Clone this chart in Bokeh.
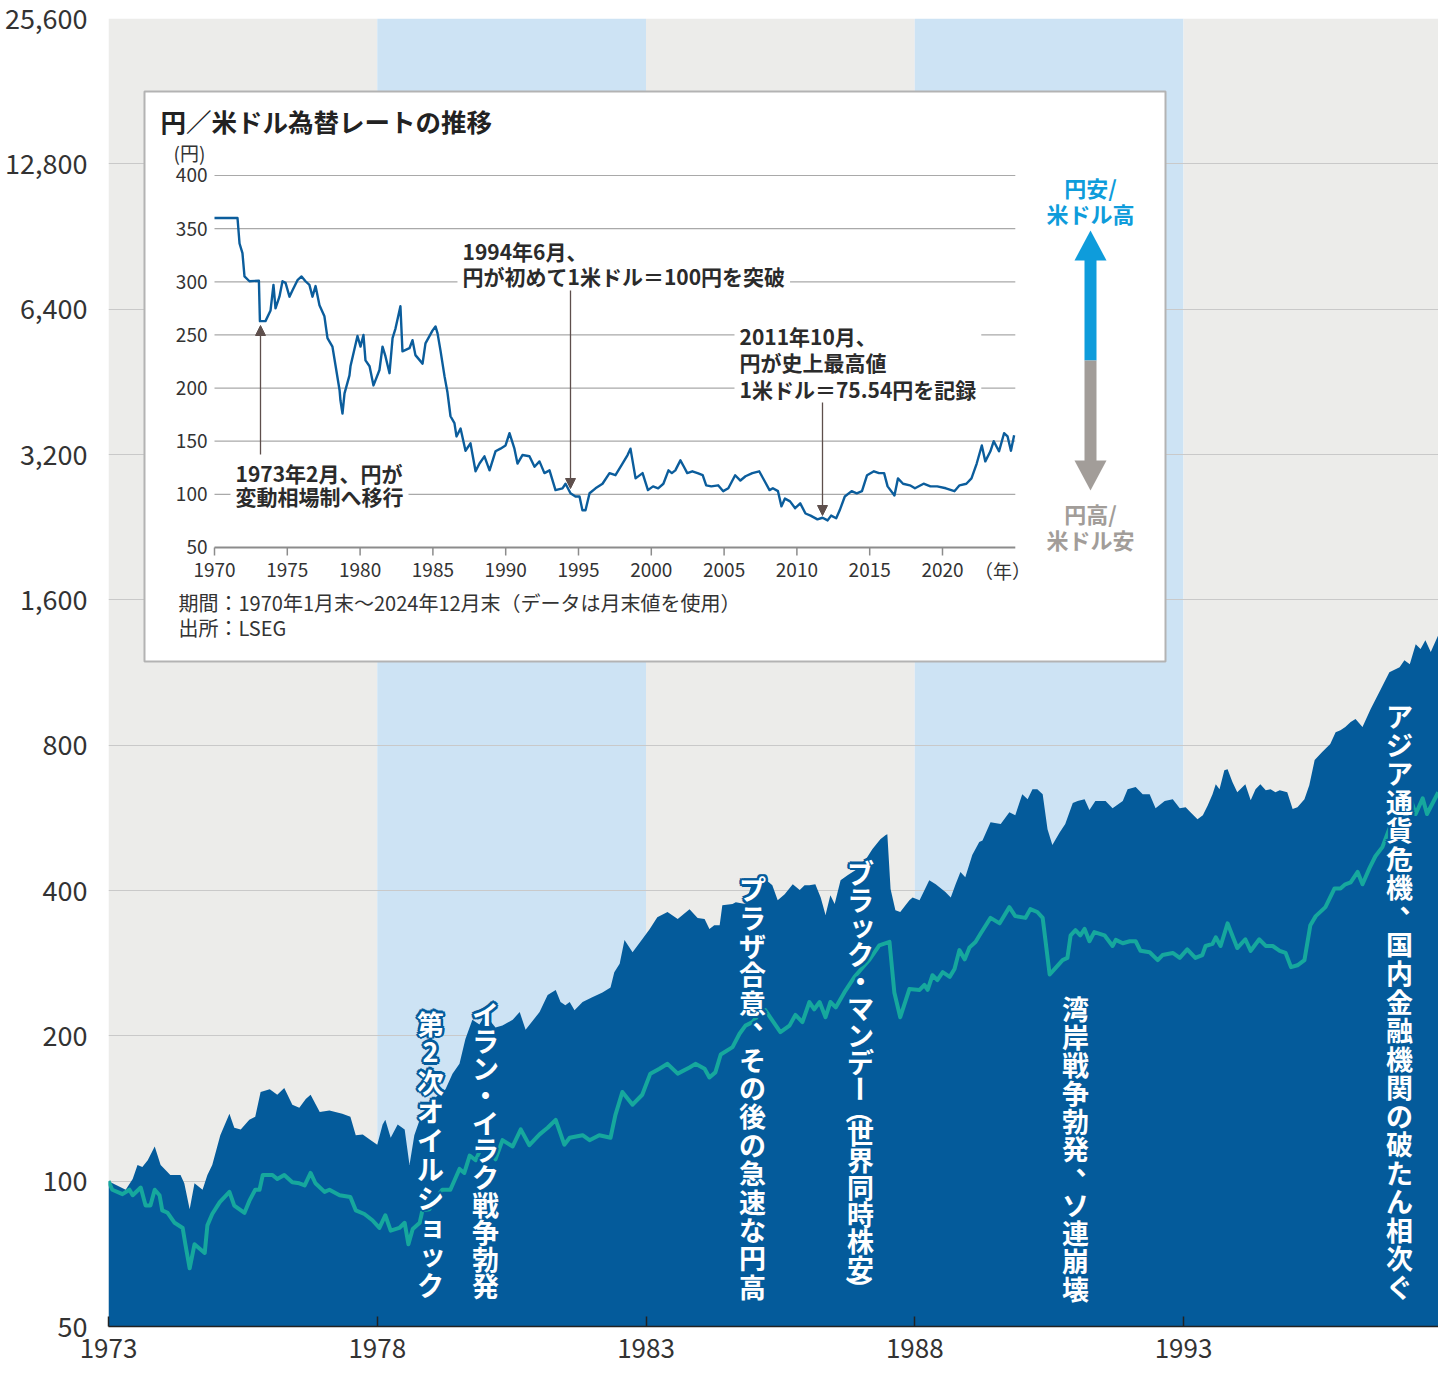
import math
from bokeh.plotting import figure
from bokeh.models import (Range1d, LinearScale, FixedTicker, NumeralTickFormatter,
                          ColumnDataSource, Arrow, NormalHead)
from bokeh.core.properties import value
from bokeh.embed import file_html
from bokeh.resources import INLINE

FONT = "Noto Sans CJK JP"

# ---------------- main chart data (index, 1973 = 100, log scale) ----------------
usd_dates = [1973.00, 1973.32, 1973.45, 1973.54, 1973.63, 1973.73, 1973.86, 1973.97, 1974.15, 1974.34,
             1974.41, 1974.51, 1974.60, 1974.75, 1974.84, 1974.93, 1975.08, 1975.25, 1975.34, 1975.46,
             1975.62, 1975.73, 1975.83, 1976.00, 1976.14, 1976.27, 1976.42, 1976.55, 1976.67, 1976.76,
             1976.93, 1977.11, 1977.35, 1977.50, 1977.60, 1977.73, 1977.86, 1978.00, 1978.10, 1978.15,
             1978.25, 1978.38, 1978.51, 1978.60, 1978.69, 1978.79, 1978.90, 1979.08, 1979.27, 1979.40,
             1979.53, 1979.64, 1979.77, 1979.90, 1980.01, 1980.20, 1980.33, 1980.52, 1980.65, 1980.76,
             1981.02, 1981.17, 1981.32, 1981.41, 1981.50, 1981.58, 1981.67, 1981.82, 1982.00, 1982.19,
             1982.34, 1982.41, 1982.51, 1982.60, 1982.75, 1982.93, 1983.07, 1983.21, 1983.40, 1983.59,
             1983.81, 1983.96, 1984.09, 1984.18, 1984.27, 1984.37, 1984.42, 1984.61, 1984.67, 1984.85,
             1984.98, 1985.22, 1985.35, 1985.45, 1985.58, 1985.73, 1985.86, 1985.95, 1986.04, 1986.15,
             1986.25, 1986.34, 1986.43, 1986.51, 1986.62, 1986.75, 1986.93, 1987.08, 1987.21, 1987.36,
             1987.46, 1987.49, 1987.55, 1987.64, 1987.73, 1987.90, 1987.96, 1988.09, 1988.27, 1988.39,
             1988.57, 1988.67, 1988.76, 1988.85, 1988.94, 1989.07, 1989.20, 1989.26, 1989.41, 1989.60,
             1989.76, 1989.87, 1990.00, 1990.10, 1990.19, 1990.28, 1990.38, 1990.47, 1990.56, 1990.69,
             1990.80, 1990.94, 1991.03, 1991.16, 1991.25, 1991.36, 1991.55, 1991.68, 1991.87, 1991.96,
             1992.11, 1992.24, 1992.37, 1992.48, 1992.65, 1992.80, 1992.93, 1993.04, 1993.13, 1993.26,
             1993.36, 1993.45, 1993.54, 1993.60, 1993.67, 1993.76, 1993.82, 1993.91, 1994.00, 1994.15,
             1994.25, 1994.34, 1994.43, 1994.53, 1994.62, 1994.71, 1994.79, 1994.93, 1995.03, 1995.12,
             1995.25, 1995.34, 1995.44, 1995.58, 1995.73, 1995.83, 1995.92, 1996.01, 1996.11, 1996.20,
             1996.33, 1996.48, 1996.67, 1996.83, 1997.02, 1997.11, 1997.21, 1997.32, 1997.41, 1997.50,
             1997.60, 1997.74]
usd_index = [100, 96, 101, 108, 107, 110.5, 118, 108, 103, 103,
             99, 87.5, 99, 96, 103, 108, 124.5, 138, 129, 128,
             134, 136, 153, 155, 151, 156, 144, 142, 148, 151,
             139, 140, 138, 136, 124.5, 125, 122, 119, 131, 134,
             123, 131, 128, 108, 124.5, 134, 139, 149, 155, 167,
             175, 197, 216, 211, 221, 208, 210, 216, 224, 206,
             224, 243, 249, 235, 231.5, 235, 226, 235, 240.5, 246,
             252, 271, 282, 316, 298, 317, 333, 352, 361, 349,
             366, 351, 349, 333, 339, 339, 373, 375, 378, 375,
             416, 422, 410, 382, 393, 412, 401, 410, 410, 412,
             387, 356, 391, 375, 420, 430, 443, 462, 487, 511,
             521, 523, 403, 364, 361, 382, 387, 382, 420, 412,
             397, 387, 412, 437, 426, 474, 504, 508, 554, 549,
             581, 573, 633, 618, 648, 648, 633, 536, 497, 526,
             549, 607, 613, 618, 587, 613, 613, 592, 613, 648,
             655, 633, 633, 592, 613, 618, 592, 595, 581, 562,
             573, 600, 633, 664, 648, 710, 713, 671, 639, 664,
             615, 648, 664, 645, 648, 639, 645, 639, 590, 595,
             618, 661, 745, 774, 804, 851, 859, 872, 893, 906,
             872, 950, 1045, 1133, 1160, 1200, 1177, 1295, 1265, 1320,
             1247, 1352]

jpy_dates = [1973.00, 1973.07, 1973.26, 1973.39, 1973.45, 1973.60, 1973.69, 1973.78, 1973.86, 1973.95,
             1974.00, 1974.10, 1974.23, 1974.38, 1974.43, 1974.51, 1974.60, 1974.79, 1974.84, 1974.93,
             1975.07, 1975.25, 1975.34, 1975.53, 1975.62, 1975.73, 1975.81, 1975.87, 1976.05, 1976.14,
             1976.27, 1976.42, 1976.55, 1976.65, 1976.76, 1976.85, 1977.02, 1977.11, 1977.30, 1977.50,
             1977.60, 1977.76, 1977.91, 1978.04, 1978.15, 1978.25, 1978.41, 1978.51, 1978.58, 1978.66,
             1978.79, 1978.84, 1978.97, 1979.08, 1979.21, 1979.36, 1979.53, 1979.62, 1979.72, 1979.83,
             1979.96, 1980.09, 1980.20, 1980.33, 1980.52, 1980.67, 1980.83, 1981.02, 1981.17, 1981.32,
             1981.48, 1981.58, 1981.82, 1981.95, 1982.13, 1982.34, 1982.43, 1982.56, 1982.75, 1982.93,
             1983.08, 1983.25, 1983.40, 1983.59, 1983.81, 1983.92, 1984.09, 1984.18, 1984.29, 1984.39,
             1984.61, 1984.74, 1984.85, 1984.98, 1985.11, 1985.22, 1985.50, 1985.67, 1985.78, 1985.91,
             1986.04, 1986.13, 1986.23, 1986.34, 1986.43, 1986.53, 1986.69, 1986.88, 1987.03, 1987.16,
             1987.34, 1987.53, 1987.62, 1987.73, 1987.90, 1988.09, 1988.18, 1988.24, 1988.33, 1988.42,
             1988.52, 1988.65, 1988.74, 1988.83, 1988.93, 1989.02, 1989.13, 1989.22, 1989.41, 1989.58,
             1989.76, 1989.87, 1990.06, 1990.15, 1990.28, 1990.38, 1990.51, 1990.60, 1990.75, 1990.84,
             1990.90, 1990.99, 1991.08, 1991.16, 1991.25, 1991.34, 1991.53, 1991.68, 1991.74, 1991.87,
             1992.00, 1992.11, 1992.20, 1992.37, 1992.52, 1992.61, 1992.80, 1992.93, 1993.07, 1993.22,
             1993.35, 1993.41, 1993.54, 1993.60, 1993.69, 1993.82, 1993.87, 1994.00, 1994.15, 1994.25,
             1994.41, 1994.53, 1994.66, 1994.79, 1994.90, 1995.00, 1995.12, 1995.25, 1995.36, 1995.46,
             1995.64, 1995.81, 1995.92, 1996.01, 1996.11, 1996.24, 1996.33, 1996.46, 1996.57, 1996.70,
             1996.84, 1997.03, 1997.15, 1997.22, 1997.32, 1997.45, 1997.53, 1997.74]
jpy_index = [100, 96, 94, 96, 93.5, 97, 89, 89, 96, 93.5,
             87, 86, 82, 80, 74, 66, 74, 71, 81, 85.5,
             90.5, 95, 89, 86, 91, 96, 96, 103, 103, 101,
             103, 99.5, 99, 98, 104, 99, 95, 96, 93.5, 92.7,
             87, 85.5, 83, 80, 85, 79, 80, 82, 74, 79.6,
             82, 87, 87.5, 92, 96, 96, 106, 104, 113, 110.5,
             119, 116.5, 111, 121.6, 118, 128, 118.7, 125, 129, 134,
             119, 123, 124.5, 121.6, 124.5, 123, 137, 153, 144, 151,
             167, 171, 175, 167, 172, 175, 171, 164, 168, 183,
             189.5, 202, 210, 213.5, 222, 226, 203.5, 210, 221, 213.5,
             235, 227, 235, 218.6, 235, 229, 246, 265, 277, 288,
             308, 313, 246, 218.6, 250, 249, 255, 249, 267, 261,
             271, 265, 275, 301, 288, 305, 313, 325, 351, 342,
             369.5, 354, 351, 366, 361, 351, 268, 275, 287, 290,
             323, 331, 323, 333, 314, 328, 323, 307, 316, 311,
             314, 314, 300, 298, 287, 294, 297, 290, 302, 290,
             294, 307, 310, 320, 307, 342, 331, 304, 317, 300,
             317, 307, 307, 300, 297, 277.5, 280, 287, 339, 354,
             369.5, 404, 404, 412, 416, 437, 412, 445, 471, 492,
             541, 567, 600, 621, 576, 621, 576, 639]

x_ticks = [1973, 1978, 1983, 1988, 1993]
y_ticks = [50, 100, 200, 400, 800, 1600, 3200, 6400, 12800, 25600]
stripe_start = [1973, 1978, 1983, 1988, 1993]
stripe_end = [1978, 1983, 1988, 1993, 1998]
stripe_color = ["#ececea", "#cde3f4", "#ececea", "#cde3f4", "#ececea"]

event_texts = ["第2次オイルショック",
               "イラン・イラク戦争勃発",
               "プラザ合意、その後の急速な円高",
               "ブラック・マンデー（世界同時株安）",
               "湾岸戦争勃発、ソ連崩壊",
               "アジア通貨危機、国内金融機関の破たん相次ぐ"]

# ---------------- inset data: JPY per USD ----------------
fx_dates = [1970.00, 1971.58, 1971.72, 1971.92, 1972.06, 1972.40, 1973.05, 1973.12, 1973.50, 1973.85,
            1974.05, 1974.19, 1974.46, 1974.67, 1974.88, 1975.15, 1975.36, 1975.70, 1975.98, 1976.25,
            1976.52, 1976.73, 1976.94, 1977.21, 1977.55, 1977.76, 1978.10, 1978.31, 1978.59, 1978.65,
            1978.79, 1978.93, 1979.27, 1979.34, 1979.82, 1980.03, 1980.23, 1980.37, 1980.65, 1980.92,
            1981.33, 1981.54, 1981.74, 1982.02, 1982.23, 1982.43, 1982.77, 1982.91, 1983.39, 1983.60,
            1983.80, 1984.29, 1984.49, 1984.97, 1985.18, 1985.32, 1985.52, 1985.80, 1986.00, 1986.21,
            1986.48, 1986.62, 1986.90, 1987.24, 1987.58, 1987.93, 1988.20, 1988.54, 1988.89, 1989.30,
            1989.64, 1989.99, 1990.26, 1990.60, 1990.81, 1991.15, 1991.63, 1991.98, 1992.32, 1992.66,
            1993.01, 1993.42, 1993.90, 1994.11, 1994.45, 1994.79, 1995.07, 1995.27, 1995.48, 1995.76,
            1996.17, 1996.65, 1997.13, 1997.54, 1998.02, 1998.37, 1998.57, 1998.92, 1999.40, 1999.77,
            2000.12, 2000.47, 2000.83, 2001.18, 2001.41, 2001.65, 2002.00, 2002.24, 2002.47, 2002.82,
            2003.18, 2003.53, 2003.77, 2004.12, 2004.59, 2004.94, 2005.29, 2005.76, 2006.12, 2006.47,
            2006.94, 2007.41, 2007.76, 2008.12, 2008.35, 2008.70, 2008.94, 2009.18, 2009.53, 2009.88,
            2010.23, 2010.59, 2010.94, 2011.41, 2011.76, 2012.11, 2012.35, 2012.70, 2012.94, 2013.29,
            2013.76, 2014.11, 2014.47, 2014.82, 2015.29, 2015.64, 2015.99, 2016.23, 2016.70, 2016.94,
            2017.29, 2017.76, 2018.11, 2018.70, 2019.17, 2019.64, 2020.23, 2020.82, 2021.17, 2021.64,
            2021.99, 2022.35, 2022.70, 2022.94, 2023.29, 2023.52, 2023.88, 2024.23, 2024.47, 2024.70,
            2024.92]
fx_rate = [360, 360, 336, 327, 305, 300.5, 301, 263, 263, 273,
           297, 275, 286, 300.5, 299, 286, 292, 301.5, 305, 300.5,
           297, 286, 296, 278, 267.5, 247, 239, 221.5, 198, 188.5,
           176, 195, 212, 220.5, 249, 239, 250, 226, 220.5, 202.5,
           217, 239, 230, 214, 247, 256, 277, 234.5, 237.5, 245,
           231, 223, 242, 254, 258, 251.5, 235.5, 211, 196, 173.5,
           167, 154.5, 162, 141, 148, 121.7, 129, 135.8, 122.6, 140.5,
           143, 146, 157.5, 143, 129, 137, 135.8, 126, 131, 120,
           122.6, 104, 105.7, 110, 101, 98, 98, 85, 85, 101,
           105.7, 110, 120, 118, 129, 137, 143, 115, 120, 104,
           107.5, 105.7, 110, 122.6, 120, 122.6, 132, 126, 120, 121.7,
           120, 118, 108.5, 107.5, 108.5, 103, 105.7, 118, 113, 117,
           120, 121.7, 113, 104, 105.7, 103, 88.7, 96, 93.4, 87,
           91.5, 82, 80, 76.5, 78, 75.5, 80, 77.5, 85, 98,
           103, 101, 103, 118, 121.7, 120, 120, 107.5, 99, 115,
           110, 108.5, 105.7, 110, 107.5, 107.5, 105.7, 103, 108.5, 110,
           115, 129, 146, 131, 140.5, 150, 140.5, 157.5, 154.5, 141,
           155.5]
fx_x_ticks = [1970, 1975, 1980, 1985, 1990, 1995, 2000, 2005, 2010, 2015, 2020]
fx_y_ticks = [50, 100, 150, 200, 250, 300, 350, 400]

AREA = "#045b9b"
TEAL = "#16a89d"
INK = "#333333"
ARROW_C = "#5e4f4c"

# ---------------- figure ----------------
p = figure(width=1438, height=1360,
           x_range=Range1d(1973, 1997.744), y_range=Range1d(50, 25600),
           y_axis_type="log", output_backend="svg", toolbar_location=None,
           min_border_left=108, min_border_right=0, min_border_top=18, min_border_bottom=34,
           background_fill_color="white", border_fill_color="white", outline_line_color=None)

# screen-like coordinate system for decorations and the inset's data coordinate system
p.extra_x_ranges = {"px": Range1d(116, 1446), "fx": Range1d(1962.720, 2054.066)}
p.extra_y_ranges = {"px": Range1d(1334, 26), "fx": Range1d(-682.93, 547.71)}
p.extra_x_scales = {"px": LinearScale(), "fx": LinearScale()}
p.extra_y_scales = {"px": LinearScale(), "fx": LinearScale()}

# axes
p.xaxis.ticker = FixedTicker(ticks=x_ticks)
p.xaxis.minor_tick_line_color = None
p.xaxis.axis_line_color = "#222222"
p.xaxis.axis_line_width = 1.5
p.xaxis.major_tick_line_color = "#222222"
p.xaxis.major_tick_line_width = 1.5
p.xaxis.major_tick_in = 10
p.xaxis.major_tick_out = 0
p.xaxis.major_label_standoff = 12
p.xaxis.major_label_text_font = FONT
p.xaxis.major_label_text_font_size = "26px"
p.xaxis.major_label_text_color = INK
p.xaxis.major_label_text_line_height = 0.6

p.yaxis.ticker = FixedTicker(ticks=y_ticks)
p.yaxis.formatter = NumeralTickFormatter(format="0,0")
p.yaxis.axis_line_color = None
p.yaxis.major_tick_line_color = None
p.yaxis.minor_tick_line_color = None
p.yaxis.major_label_standoff = 15
p.yaxis.major_label_text_font = FONT
p.yaxis.major_label_text_font_size = "27px"
p.yaxis.major_label_text_color = INK

p.xgrid.grid_line_color = None
p.ygrid.grid_line_color = "#c9c9c9"
p.ygrid.grid_line_width = 1.2
p.ygrid.minor_grid_line_color = None

# background stripes
st = p.quad(left=stripe_start, right=stripe_end, bottom=y_ticks[0], top=y_ticks[-1],
            fill_color=stripe_color, line_color=None)
st.level = "image"

# area (dark blue) and line (teal)
p.varea(x=usd_dates, y1=y_ticks[0], y2=usd_index, fill_color=AREA)
p.line(x=jpy_dates, y=jpy_index, line_color=TEAL, line_width=4, line_join="round")

# ---------------- vertical event annotations ----------------
event_cols = [(438, 1016, 1306), (493, 1007, 1307), (760, 882, 1308),
              (868, 866, 1305), (1083, 1002, 1310), (1407, 709, 1308)]
VSIZE = 27
ch_t, ch_x, ch_y, ch_a = [], [], [], []
for txt, (cx, top, bot) in zip(event_texts, event_cols):
    weights = [0.6 if c in "（）" else 1.0 for c in txt]
    pitch = (bot - top) / sum(weights)
    y = top
    for c, w in zip(txt, weights):
        h = pitch * w
        dx, dy, ang = 0.0, 0.0, 0.0
        if c in "ー（）":
            ang = -math.pi / 2
        if c == "、":
            dx, dy = VSIZE * 0.5, -VSIZE * 0.5
        if c in "ッョ":
            dx, dy = 2.0, -2.0
        ch_t.append(c)
        ch_x.append(cx + dx)
        ch_y.append(y + h / 2 + dy)
        ch_a.append(ang)
        y += h

halo_offsets = [(2.6, 0), (-2.6, 0), (0, 2.6), (0, -2.6), (1.9, 1.9), (-1.9, 1.9), (1.9, -1.9), (-1.9, -1.9)]
hx, hy, ht, ha, hdx, hdy = [], [], [], [], [], []
for ox, oy in halo_offsets:
    hx += ch_x; hy += ch_y; ht += ch_t; ha += ch_a
    hdx += [ox] * len(ch_t); hdy += [oy] * len(ch_t)
halo_src = ColumnDataSource(dict(x=hx, y=hy, t=ht, a=ha, dx=hdx, dy=hdy))
p.text(x="x", y="y", text="t", angle="a", x_offset="dx", y_offset="dy", source=halo_src,
       x_range_name="px", y_range_name="px", text_font=value(FONT), text_font_style="bold",
       text_font_size=f"{VSIZE}px", text_color=AREA, text_align="center", text_baseline="middle")
char_src = ColumnDataSource(dict(x=ch_x, y=ch_y, t=ch_t, a=ch_a))
p.text(x="x", y="y", text="t", angle="a", source=char_src,
       x_range_name="px", y_range_name="px", text_font=value(FONT), text_font_style="bold",
       text_font_size=f"{VSIZE}px", text_color="white", text_align="center", text_baseline="middle")

# ---------------- inset ----------------
PX = dict(x_range_name="px", y_range_name="px")
FX = dict(x_range_name="fx", y_range_name="fx")

p.quad(left=152, right=1173, top=99, bottom=669, fill_color="white",
       line_color="#b3b3b3", line_width=2, **PX)

# inset grid and axis
p.segment(x0=fx_x_ticks[0], x1=2025, y0=fx_y_ticks[1:], y1=fx_y_ticks[1:],
          line_color="#a9a9a9", line_width=1.2, **FX)
p.segment(x0=fx_x_ticks[0], x1=2025, y0=fx_y_ticks[0], y1=fx_y_ticks[0],
          line_color="#8c8c8c", line_width=2, **FX)
p.ray(x=fx_x_ticks, y=fx_y_ticks[0], length=8, length_units="screen", angle=-math.pi / 2,
      line_color="#8c8c8c", line_width=1.5, **FX)
p.text(x=fx_x_ticks[0], y=fx_y_ticks, text=[str(v) for v in fx_y_ticks], x_offset=-7,
       text_font=value(FONT), text_font_size="19px", text_color=INK,
       text_align="right", text_baseline="middle", **FX)
p.text(x=fx_x_ticks, y=fx_y_ticks[0], text=[str(v) for v in fx_x_ticks], y_offset=23,
       text_font=value(FONT), text_font_size="19px", text_color=INK,
       text_align="center", text_baseline="middle", **FX)

# inset line
p.line(x=fx_dates, y=fx_rate, line_color="#0b5d9c", line_width=2.4, line_join="round", **FX)

# inset texts
p.text(x=[168], y=[128], text=["円／米ドル為替レートの推移"], text_font=value(FONT),
       text_font_style="bold", text_font_size="25.5px", text_color="#222222",
       text_align="left", text_baseline="middle", **PX)
p.text(x=[197], y=[160], text=["(円)"], text_font=value(FONT), text_font_size="19px",
       text_color=INK, text_align="center", text_baseline="middle", **PX)
p.text(x=[1010], y=[578], text=["（年）"], text_font=value(FONT), text_font_size="19px",
       text_color=INK, text_align="center", text_baseline="middle", **PX)
p.text(x=[186, 186], y=[610, 635],
       text=["期間：1970年1月末～2024年12月末（データは月末値を使用）", "出所：LSEG"],
       text_font=value(FONT), text_font_size="20px", text_color=INK,
       text_align="left", text_baseline="middle", **PX)

notes = [("1973年2月、円が\n変動相場制へ移行", 238, 460, 0.78),
         ("1994年6月、\n円が初めて1米ドル＝100円を突破", 465, 238, 0.84),
         ("2011年10月、\n円が史上最高値\n1米ドル＝75.54円を記録", 742, 323, 0.885)]
for txt, nx, ny, lh in notes:
    p.text(x=[nx], y=[ny], text=[txt], text_font=value(FONT), text_font_style="bold",
           text_font_size="21px", text_color="#2b2b2b", text_align="left", text_baseline="top",
           text_line_height=lh, background_fill_color="white", padding=5, **PX)

for xs, ys, xe, ye in [(268, 462, 268, 333), (578, 298, 578, 496), (830, 410, 830, 523)]:
    p.add_layout(Arrow(end=NormalHead(size=10, fill_color=ARROW_C, line_color=ARROW_C, line_width=1),
                       x_start=xs, y_start=ys, x_end=xe, y_end=ye,
                       line_color=ARROW_C, line_width=1.3, **PX))

# direction arrows on the right of the inset
BLUE = "#0e9cdb"
GRAY = "#a29d99"
p.quad(left=1092, right=1104, top=266, bottom=368, fill_color=BLUE, line_color=None, **PX)
p.patch(x=[1082, 1114, 1098], y=[268, 268, 238], fill_color=BLUE, line_color=None, **PX)
p.quad(left=1092, right=1104, top=368, bottom=470, fill_color=GRAY, line_color=None, **PX)
p.patch(x=[1082, 1114, 1098], y=[468, 468, 498], fill_color=GRAY, line_color=None, **PX)
p.text(x=[1098, 1098], y=[194, 220], text=["円安/", "米ドル高"], text_font=value(FONT),
       text_font_style="bold", text_font_size="22px", text_color=BLUE,
       text_align="center", text_baseline="middle", **PX)
p.text(x=[1098, 1098], y=[520, 546], text=["円高/", "米ドル安"], text_font=value(FONT),
       text_font_style="bold", text_font_size="22px", text_color=GRAY,
       text_align="center", text_baseline="middle", **PX)

open("out.html", "w").write(file_html(p, INLINE))
